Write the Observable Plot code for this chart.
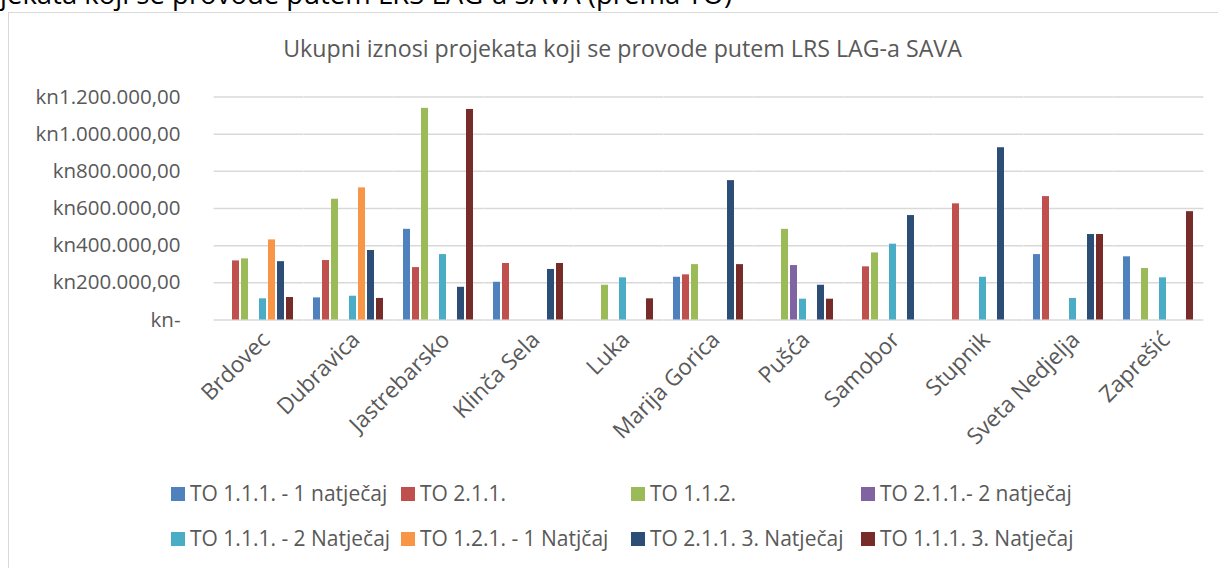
<!DOCTYPE html>
<html>
<head>
<meta charset="utf-8">
<script src="https://cdn.jsdelivr.net/npm/d3@7"></script>
<script src="https://cdn.jsdelivr.net/npm/@observablehq/plot@0.6"></script>
<style>
  html, body { margin: 0; padding: 0; background: #fff; }
  body { width: 1218px; height: 568px; overflow: hidden; position: relative; font-family: "Open Sans", sans-serif; }
  #doctext { position: absolute; right: 486px; top: -20px; font-size: 27.5px; line-height: 27px; color: #000; white-space: nowrap; }
  #frame { position: absolute; left: 8px; top: 12px; width: 1400px; height: 800px; border: 1.5px solid #D9D9D9; }
  #title { position: absolute; left: 0; width: 1245px; top: 37px; text-align: center; font-size: 23.2px; line-height: 23px; color: #595959; white-space: nowrap; }
  #chart { position: absolute; left: 0; top: 70px; }
  .leg { position: absolute; display: flex; align-items: center; font-size: 21px; line-height: 21px; color: #595959; white-space: nowrap; }
  .sw { width: 14px; height: 14px; margin-right: 5px; }
</style>
</head>
<body>
<div id="doctext">Ukupni iznosi projekata koji se provode putem LRS LAG-a SAVA (prema TO)</div>
<div id="frame"></div>
<div id="title">Ukupni iznosi projekata koji se provode putem LRS LAG-a SAVA</div>
<div id="chart"></div>
<div id="legend"></div>
<script>
const categories = ["Brdovec", "Dubravica", "Jastrebarsko", "Klinča Sela", "Luka", "Marija Gorica", "Pušća", "Samobor", "Stupnik", "Sveta Nedjelja", "Zaprešić"];
const seriesNames = ["TO 1.1.1. - 1 natječaj", "TO 2.1.1.", "TO 1.1.2.", "TO 2.1.1.- 2 natječaj", "TO 1.1.1. - 2 Natječaj", "TO 1.2.1. - 1 Natjčaj", "TO 2.1.1. 3. Natječaj", "TO 1.1.1. 3. Natječaj"];
const seriesColors = ["#4F81BD", "#C0504D", "#9BBB59", "#8064A2", "#4BACC6", "#F79646", "#2C4D75", "#772C2A"];

const to111_1 = [null, 119000, 488000, 203000, null, 230000, null, null, null, 352000, 340000];
const to211 = [318000, 320000, 282000, 304000, null, 243000, null, 286000, 625000, 664000, null];
const to112 = [329000, 650000, 1139000, null, 187000, 298000, 488000, 361000, null, null, 277000];
const to211_2 = [null, null, null, null, null, null, 293000, null, null, null, null];
const to111_2 = [114000, 128000, 352000, null, 227000, null, 112000, 408000, 230000, 116000, 227000];
const to121_1 = [431000, 711000, null, null, null, null, null, null, null, null, null];
const to211_3 = [314000, 374000, 176000, 272000, null, 750000, 187000, 562000, 927000, 460000, null];
const to111_3 = [121000, 116000, 1133000, 304000, 114000, 298000, 112000, null, null, 460000, 583000];

const yTicks = [0, 200000, 400000, 600000, 800000, 1000000, 1200000];

const seriesValues = [to111_1, to211, to112, to211_2, to111_2, to121_1, to211_3, to111_3];
const data = [];
seriesNames.forEach((s, i) => {
  categories.forEach((c, j) => {
    const v = seriesValues[i][j];
    if (v != null) data.push({category: c, series: s, value: v});
  });
});

const kn = d3.formatLocale({decimal: ",", thousands: ".", grouping: [3], currency: ["kn", ""]}).format("$,.2f");
const tickFormat = d => d === 0 ? "kn-" : kn(d);

const chart = Plot.plot({
  width: 1218,
  height: 400,
  marginTop: 26.5,
  marginBottom: 150.5,
  marginLeft: 210,
  marginRight: 10,
  style: {fontFamily: "'Open Sans', sans-serif", fontSize: "21px", color: "#595959", background: "transparent", overflow: "visible"},
  fx: {domain: categories, paddingInner: 0.162, paddingOuter: 0.081, label: null},
  x: {domain: seriesNames, paddingInner: 0.2, paddingOuter: 0.1, axis: null},
  y: {domain: [0, 1200000]},
  color: {domain: seriesNames, range: seriesColors},
  marks: [
    Plot.gridY(yTicks, {stroke: "#D9D9D9", strokeOpacity: 1, strokeWidth: 1.5, insetLeft: -7.4, insetRight: -7.4}),
    Plot.axisY(yTicks, {tickSize: 0, tickPadding: 41, tickFormat, label: null, fontSize: 20.5}),
    Plot.barY(data, {fx: "category", x: "series", y: "value", fill: "series"}),
    Plot.axisFx({anchor: "bottom", tickRotate: -45, tickSize: 0, tickPadding: 16, dx: 7, label: null, fontSize: 22.5})
  ]
});
document.getElementById("chart").appendChild(chart);

const legend = document.getElementById("legend");
seriesNames.forEach((s, i) => {
  const col = i % 4, row = Math.floor(i / 4);
  const item = document.createElement("div");
  item.className = "leg";
  item.style.left = (171 + col * 230) + "px";
  item.style.top = (483 + row * 45) + "px";
  const sw = document.createElement("span");
  sw.className = "sw";
  sw.style.background = seriesColors[i];
  item.appendChild(sw);
  item.appendChild(document.createTextNode(s));
  legend.appendChild(item);
});
</script>
</body>
</html>
